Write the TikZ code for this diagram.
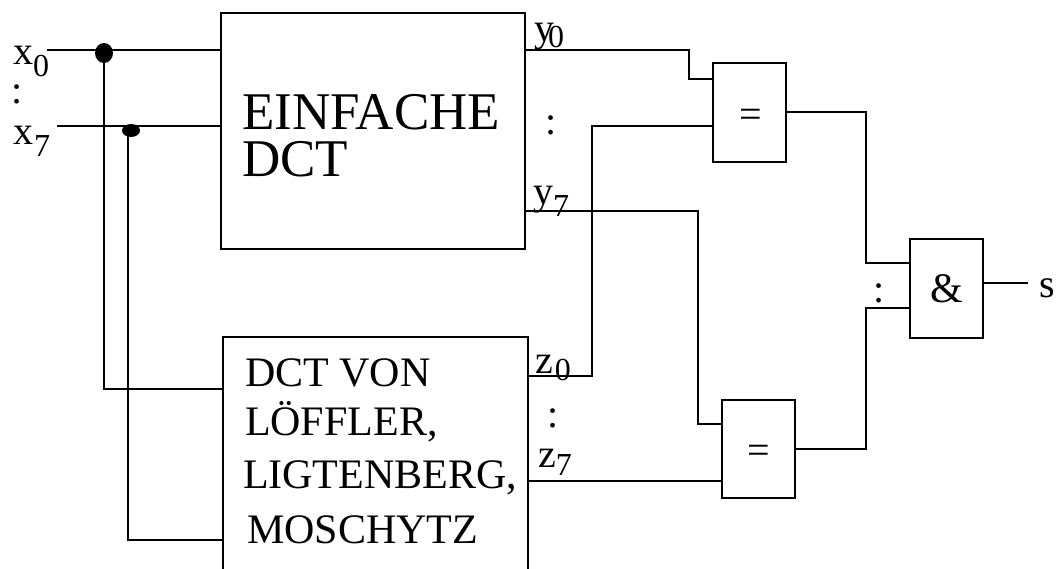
\documentclass[tikz,border=0pt]{standalone}
\usepackage{fontspec}
\setmainfont{Liberation Serif}
\usetikzlibrary{calc,shapes.geometric}
\newcommand{\mysub}[2]{\raisebox{#1}{\fontsize{32}{32}\selectfont #2}}
\tikzset{
  wire/.style={line width=2pt},
  dctbox/.style={draw, rectangle, inner sep=0pt, outer sep=0pt, line width=2pt},
  gate/.style={draw, rectangle, inner sep=0pt, outer sep=0pt, line width=2pt, minimum width=73pt, minimum height=99pt},
  jdot/.style={ellipse, fill=black, inner sep=0pt, outer sep=0pt},
  lbl/.style={inner sep=0pt, outer sep=0pt, anchor=base west, font=\fontsize{40}{40}\selectfont},
  bigtxt/.style={lbl, font=\fontsize{53}{53}\selectfont},
  midtxt/.style={lbl, font=\fontsize{42}{42}\selectfont},
  gsym/.style={inner sep=0pt, outer sep=0pt, font=\fontsize{40}{40}\selectfont}
}
\begin{document}
\begin{tikzpicture}[x=1pt,y=-1pt]
\fill[white] (0,0) rectangle (1056,569);
\useasboundingbox (0,0) rectangle (1056,569);
\clip (0,0) rectangle (1056,569);

% blocks
\node[dctbox, minimum width=304pt, minimum height=236pt] (box1) at (373,131) {};
\node[dctbox, minimum width=305pt, minimum height=283pt] (box2) at (375.5,478.5) {};
\node[gate] (g1) at (749.5,112.5) {};
\node[gate, minimum height=98pt] (g2) at (758.5,449) {};
\node[gate, font=\fontsize{42}{42}\selectfont] (g3) at (946.5,288.5) {\&};
\node[gsym] (eq1) at (751,118) {=};
\node[gsym] (eq2) at (759,454) {=};

% texts in blocks
\node[bigtxt] (t1) at (242,130) {EINFACHE};
\node[bigtxt] (t2) at (242,177) {DCT};
\node[midtxt] (t3) at (245,386) {DCT VON};
\node[midtxt] (t4) at (245,435) {LÖFFLER,};
\node[midtxt] (t5) at (243,488) {LIGTENBERG,};
\node[midtxt] (t6) at (247,543) {MOSCHYTZ};

% coordinates
\coordinate (x0s) at (47,50);
\coordinate (x7s) at (57,126);
\coordinate (b2i1) at ($(box2.north west)+(0,52)$);
\coordinate (b2i2) at ($(box2.north west)+(0,203)$);
\coordinate (y0o) at ($(box1.north east)+(0,37)$);
\coordinate (y7o) at ($(box1.north east)+(0,198)$);
\coordinate (z0o) at ($(box2.north east)+(0,39)$);
\coordinate (z7o) at ($(box2.north east)+(0,144)$);
\coordinate (g1i1) at ($(g1.north west)+(0,16)$);
\coordinate (g1i2) at ($(g1.north west)+(0,63)$);
\coordinate (g2i1) at ($(g2.north west)+(0,24)$);
\coordinate (g3i1) at ($(g3.north west)+(0,24)$);
\coordinate (g3i2) at ($(g3.north west)+(0,69)$);
\coordinate (g3o) at ($(g3.north east)+(0,44)$);
\coordinate (send) at ($(g3o)+(45,0)$);

% wires
\draw[wire] (x0s) -- (x0s -| box1.west);
\draw[wire] (x7s) -- (x7s -| box1.west);
\node[jdot, minimum width=18pt, minimum height=20pt] (j1) at (104,53) {};
\node[jdot, minimum width=18pt, minimum height=13pt] (j2) at (131,130.5) {};
\draw[wire] (j1.center) |- (b2i1);
\draw[wire] ($(j2.center)+(-3,0)$) |- (b2i2);
\draw[wire] (y0o) -- ++(164,0) |- (g1i1);
\draw[wire] (z0o) -- ++(64,0) |- (g1i2);
\draw[wire] (y7o) -- ++(173,0) |- (g2i1);
\draw[wire] (z7o) -- (z7o -| g2.west);
\draw[wire] (g1.east) -- ++(80,0) |- (g3i1);
\draw[wire] (g2.east) -- ++(71,0) |- (g3i2);
\draw[wire] (g3o) -- (send);

% labels
\node[lbl] (lx0) at (13,65) {x\mysub{-12pt}{0}};
\node[lbl] (cx) at (11.5,104) {:};
\node[lbl] (lx7) at (13,145) {x\hspace{1pt}\mysub{-12pt}{7}};
\node[lbl] (ly0) at (534,42) {y\hspace{-6pt}\mysub{-6pt}{0}};
\node[lbl] (cy) at (545.5,135) {:};
\node[lbl] (ly7) at (533,205) {y\mysub{-12pt}{7}};
\node[lbl] (lz0) at (535,373) {z\hspace{2pt}\mysub{-7pt}{0}};
\node[lbl] (cz) at (547.5,427) {:};
\node[lbl] (lz7) at (538,467) {z\mysub{-8pt}{7}};
\node[lbl] (cg) at (873.5,302) {:};
\node[lbl] (ls) at (1039,297) {s};
\end{tikzpicture}
\end{document}
